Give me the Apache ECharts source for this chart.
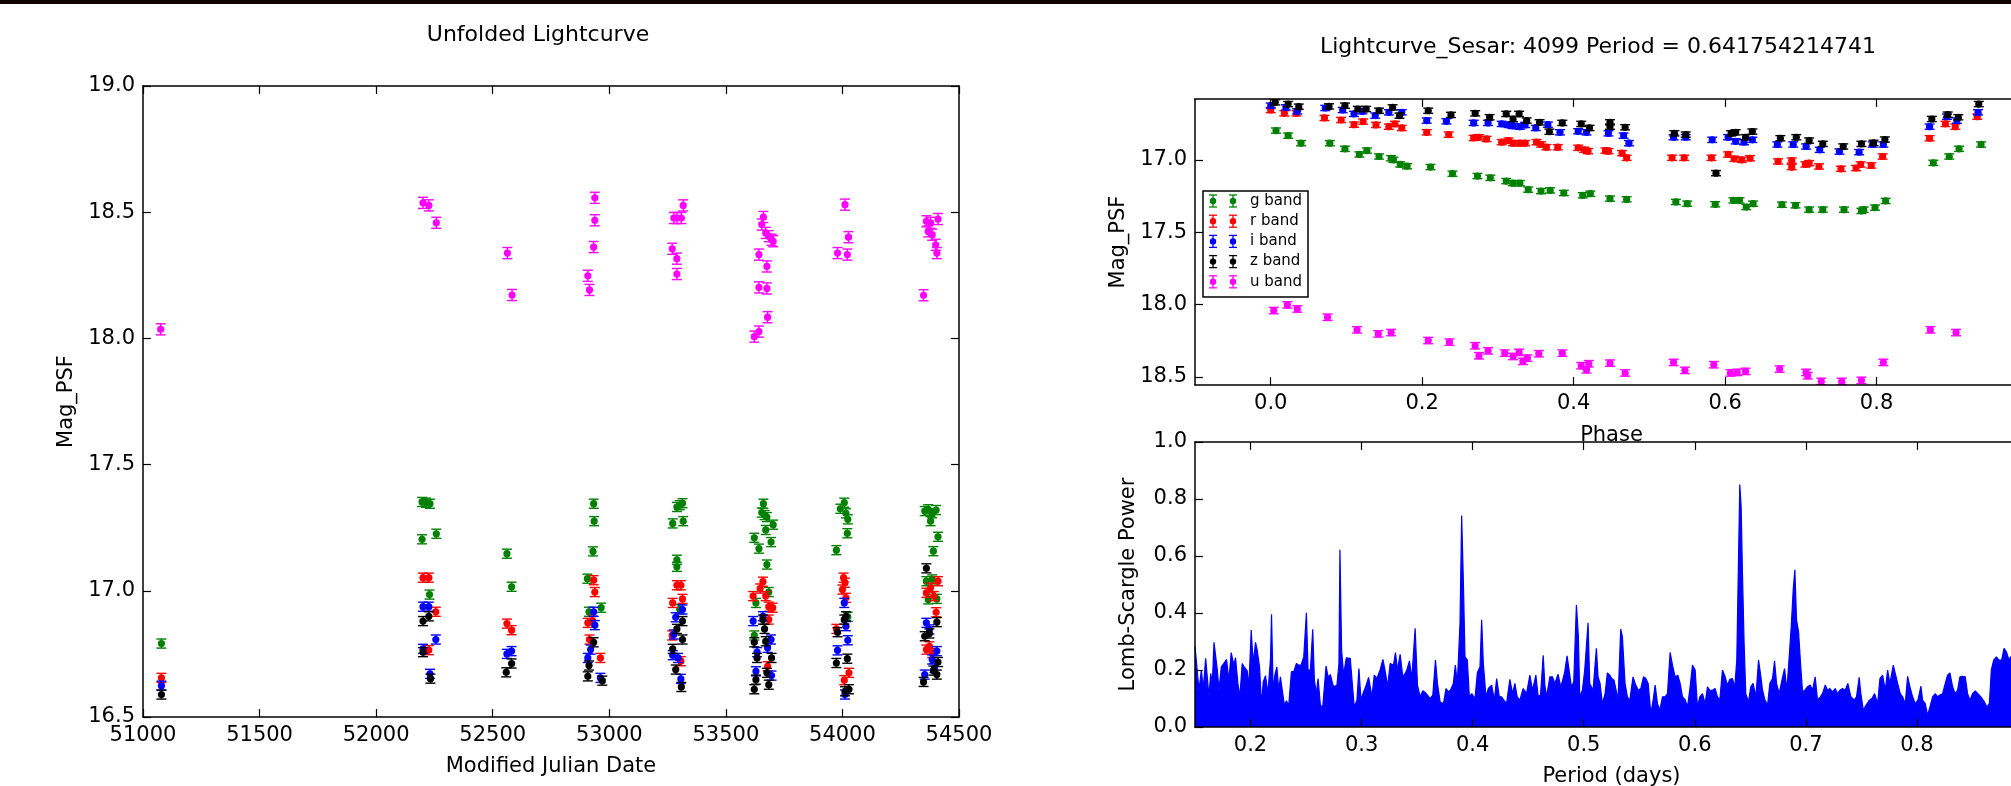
<!DOCTYPE html>
<html>
<head>
<meta charset="utf-8">
<title>Lightcurve 4099</title>
<style>
  html, body { margin: 0; padding: 0; background: #ffffff; }
  #chart { width: 2011px; height: 786px; }
</style>
<script src="https://cdn.jsdelivr.net/npm/echarts@6/dist/echarts.min.js"></script>
</head>
<body>
<div id="chart"></div>
<script>
// ---------- bands ----------
const bandNames  = ['g band', 'r band', 'i band', 'z band', 'u band'];
const bandColors = ['#008000', '#ff0000', '#0000ff', '#000000', '#ff00ff'];
const bandErr    = [0.018, 0.018, 0.018, 0.018, 0.022];

// ---------- unfolded lightcurve (MJD, Mag_PSF) ----------
const gMjd = [51079, 52197, 52214, 52231, 52197, 52258, 52229, 52561, 52581, 52906, 52913, 52933, 52935, 52930, 52965, 53272, 53290, 53302, 53314, 53317, 53290, 53290, 53302, 53622, 53642, 53661, 53654, 53666, 53676, 53671, 53703, 53694, 53676, 53684, 53629, 53622, 53974, 53991, 54008, 54015, 54023, 54021, 54023, 54353, 54368, 54385, 54402, 54378, 54410, 54390, 54360, 54368, 54405, 54385];
const gMag = [16.791, 17.352, 17.349, 17.345, 17.204, 17.226, 16.985, 17.147, 17.016, 17.048, 16.917, 17.345, 17.276, 17.156, 16.933, 17.267, 17.332, 17.339, 17.347, 17.276, 17.123, 17.095, 16.927, 17.210, 17.167, 17.345, 17.310, 17.300, 17.292, 17.241, 17.262, 17.193, 17.104, 16.995, 16.952, 16.823, 17.161, 17.325, 17.349, 17.307, 17.283, 17.228, 16.897, 17.316, 17.323, 17.307, 17.320, 17.276, 17.214, 17.157, 17.038, 16.966, 16.968, 17.045];

const rMjd = [51079, 52201, 52226, 52256, 52226, 52561, 52581, 52908, 52915, 52933, 52938, 52928, 52962, 53272, 53270, 53290, 53307, 53314, 53307, 53617, 53647, 53659, 53671, 53684, 53701, 53684, 53679, 53974, 54005, 54011, 54000, 54015, 54008, 54028, 54360, 54378, 54392, 54410, 54360, 54385, 54373, 54402];
const rMag = [16.655, 17.052, 17.052, 16.917, 16.765, 16.870, 16.844, 16.873, 16.807, 17.042, 16.995, 16.882, 16.734, 16.952, 16.823, 17.022, 17.022, 16.968, 16.721, 16.979, 17.009, 17.036, 16.979, 16.937, 16.933, 16.886, 16.701, 16.849, 17.052, 17.032, 17.005, 16.972, 16.646, 16.675, 16.992, 17.012, 16.979, 17.038, 16.767, 16.754, 16.780, 16.915];

const iMjd = [51079, 52201, 52226, 52201, 52256, 52231, 52561, 52581, 52908, 52920, 52933, 52938, 52962, 53272, 53285, 53295, 53314, 53307, 53277, 53617, 53634, 53659, 53694, 53679, 53629, 53696, 53979, 54008, 54015, 54023, 54011, 54360, 54373, 54353, 54385, 54405, 54395];
const iMag = [16.624, 16.937, 16.937, 16.770, 16.807, 16.671, 16.750, 16.761, 16.734, 16.767, 16.917, 16.864, 16.655, 16.745, 16.895, 16.734, 16.926, 16.651, 16.827, 16.880, 16.757, 16.899, 16.807, 16.774, 16.681, 16.664, 16.764, 16.952, 16.860, 16.804, 16.589, 16.873, 16.847, 16.668, 16.728, 16.761, 16.694];

const zMjd = [51079, 52201, 52226, 52201, 52233, 52558, 52581, 52913, 52933, 52908, 52970, 53272, 53285, 53290, 53314, 53314, 53309, 53622, 53634, 53629, 53622, 53666, 53671, 53676, 53684, 53696, 53659, 53979, 53974, 54008, 54015, 54021, 54011, 54028, 54360, 54353, 54373, 54405, 54390, 54410, 54348, 54405];
const zMag = [16.589, 16.880, 16.899, 16.757, 16.652, 16.677, 16.712, 16.704, 16.796, 16.661, 16.644, 16.770, 16.688, 16.849, 16.880, 16.807, 16.619, 16.796, 16.734, 16.648, 16.610, 16.849, 16.800, 16.675, 16.628, 16.734, 16.886, 16.836, 16.714, 16.886, 16.899, 16.731, 16.602, 16.610, 17.089, 16.820, 16.831, 16.876, 16.684, 16.718, 16.639, 16.668];

const uMjd = [51076, 52201, 52226, 52258, 52563, 52583, 52908, 52915, 52933, 52938, 52938, 53270, 53277, 53290, 53290, 53290, 53309, 53317, 53622, 53642, 53642, 53642, 53654, 53661, 53671, 53676, 53676, 53679, 53684, 53696, 53703, 53979, 54011, 54021, 54026, 54348, 54360, 54368, 54378, 54385, 54400, 54405, 54410];
const uMag = [18.036, 18.537, 18.527, 18.458, 18.338, 18.172, 18.248, 18.192, 18.362, 18.557, 18.468, 18.355, 18.477, 18.477, 18.316, 18.255, 18.477, 18.527, 18.007, 18.027, 18.202, 18.332, 18.451, 18.481, 18.418, 18.285, 18.198, 18.084, 18.405, 18.391, 18.385, 18.338, 18.530, 18.332, 18.401, 18.171, 18.464, 18.424, 18.458, 18.411, 18.371, 18.338, 18.473];

// ---------- folded lightcurve (phase, Mag_PSF) ----------
const gPhase = [0.007, 0.023, 0.040, 0.078, 0.098, 0.117, 0.127, 0.143, 0.159, 0.162, 0.171, 0.180, 0.211, 0.240, 0.273, 0.290, 0.311, 0.320, 0.329, 0.340, 0.357, 0.369, 0.387, 0.412, 0.422, 0.448, 0.470, 0.535, 0.550, 0.587, 0.611, 0.619, 0.628, 0.637, 0.675, 0.693, 0.711, 0.729, 0.757, 0.780, 0.783, 0.798, 0.812, 0.875, 0.896, 0.909, 0.938];
const gFold  = [16.798, 16.833, 16.885, 16.885, 16.924, 16.963, 16.936, 16.977, 16.989, 17.000, 17.032, 17.044, 17.050, 17.096, 17.112, 17.124, 17.147, 17.161, 17.161, 17.206, 17.216, 17.211, 17.229, 17.245, 17.234, 17.268, 17.273, 17.291, 17.303, 17.307, 17.280, 17.280, 17.326, 17.303, 17.310, 17.314, 17.344, 17.344, 17.344, 17.353, 17.344, 17.330, 17.284, 17.021, 16.977, 16.924, 16.894];

const rPhase = [0.000, 0.018, 0.034, 0.071, 0.093, 0.110, 0.122, 0.139, 0.156, 0.164, 0.173, 0.206, 0.235, 0.268, 0.275, 0.285, 0.305, 0.314, 0.320, 0.329, 0.336, 0.351, 0.357, 0.364, 0.379, 0.406, 0.414, 0.419, 0.442, 0.446, 0.464, 0.470, 0.530, 0.546, 0.582, 0.604, 0.612, 0.622, 0.633, 0.670, 0.688, 0.688, 0.706, 0.711, 0.724, 0.753, 0.773, 0.779, 0.793, 0.808, 0.870, 0.891, 0.904, 0.933];
const rFold  = [16.656, 16.679, 16.679, 16.711, 16.725, 16.757, 16.736, 16.759, 16.771, 16.752, 16.780, 16.810, 16.826, 16.849, 16.844, 16.856, 16.878, 16.867, 16.885, 16.885, 16.885, 16.878, 16.894, 16.913, 16.913, 16.917, 16.931, 16.940, 16.936, 16.940, 16.954, 16.986, 16.986, 16.986, 16.986, 16.963, 16.993, 17.000, 16.989, 17.011, 17.005, 17.050, 17.032, 17.023, 17.046, 17.062, 17.057, 17.032, 17.039, 16.977, 16.851, 16.752, 16.771, 16.702];

const iPhase = [0.000, 0.020, 0.035, 0.072, 0.095, 0.110, 0.121, 0.138, 0.156, 0.173, 0.206, 0.232, 0.268, 0.287, 0.305, 0.314, 0.320, 0.329, 0.336, 0.350, 0.366, 0.382, 0.406, 0.417, 0.446, 0.466, 0.473, 0.532, 0.548, 0.583, 0.604, 0.614, 0.625, 0.636, 0.669, 0.690, 0.707, 0.725, 0.751, 0.777, 0.795, 0.809, 0.870, 0.893, 0.906, 0.934];
const iFold  = [16.626, 16.638, 16.665, 16.642, 16.656, 16.683, 16.665, 16.695, 16.672, 16.672, 16.729, 16.734, 16.745, 16.745, 16.752, 16.759, 16.766, 16.771, 16.759, 16.780, 16.757, 16.810, 16.803, 16.810, 16.817, 16.833, 16.885, 16.844, 16.844, 16.862, 16.844, 16.872, 16.878, 16.862, 16.894, 16.894, 16.908, 16.931, 16.943, 16.947, 16.894, 16.894, 16.771, 16.702, 16.729, 16.672];

const zPhase = [0.006, 0.023, 0.037, 0.077, 0.098, 0.115, 0.126, 0.143, 0.161, 0.170, 0.208, 0.238, 0.270, 0.289, 0.311, 0.320, 0.328, 0.338, 0.355, 0.368, 0.385, 0.410, 0.421, 0.448, 0.448, 0.468, 0.533, 0.548, 0.588, 0.608, 0.614, 0.627, 0.636, 0.673, 0.694, 0.711, 0.729, 0.756, 0.780, 0.796, 0.811, 0.873, 0.894, 0.908, 0.935];
const zFold  = [16.603, 16.615, 16.633, 16.631, 16.626, 16.649, 16.649, 16.661, 16.638, 16.695, 16.661, 16.690, 16.679, 16.706, 16.683, 16.718, 16.683, 16.729, 16.741, 16.806, 16.745, 16.752, 16.780, 16.741, 16.771, 16.775, 16.817, 16.826, 17.092, 16.817, 16.810, 16.844, 16.805, 16.851, 16.844, 16.867, 16.890, 16.908, 16.890, 16.883, 16.860, 16.718, 16.688, 16.706, 16.615];

const uPhase = [0.004, 0.022, 0.035, 0.075, 0.114, 0.142, 0.159, 0.208, 0.236, 0.270, 0.275, 0.287, 0.309, 0.320, 0.328, 0.333, 0.339, 0.354, 0.385, 0.410, 0.417, 0.420, 0.448, 0.468, 0.532, 0.547, 0.585, 0.607, 0.616, 0.627, 0.672, 0.707, 0.709, 0.727, 0.754, 0.780, 0.809, 0.871, 0.905];
const uFold  = [18.041, 18.002, 18.030, 18.087, 18.174, 18.202, 18.193, 18.248, 18.259, 18.284, 18.353, 18.319, 18.335, 18.358, 18.330, 18.392, 18.369, 18.339, 18.335, 18.422, 18.450, 18.408, 18.404, 18.472, 18.399, 18.454, 18.415, 18.472, 18.468, 18.461, 18.445, 18.468, 18.491, 18.530, 18.530, 18.523, 18.399, 18.174, 18.193];

// ---------- Lomb-Scargle periodogram (period in days, power) ----------
const lombScargle = [
  [0.1500,0.282],[0.1515,0.282],[0.1536,0.129],[0.1557,0.200],[0.1575,0.135],[0.1596,0.241],[0.1611,0.235],[0.1626,0.106],[0.1641,0.188],[0.1656,0.153],
  [0.1671,0.297],[0.1686,0.293],[0.1701,0.200],[0.1716,0.129],[0.1737,0.211],[0.1760,0.223],[0.1784,0.237],[0.1805,0.164],[0.1826,0.261],[0.1850,0.217],
  [0.1865,0.243],[0.1886,0.153],[0.1904,0.106],[0.1925,0.223],[0.1946,0.209],[0.1970,0.197],[0.1985,0.141],[0.2006,0.340],[0.2024,0.223],[0.2045,0.297],
  [0.2060,0.270],[0.2081,0.211],[0.2099,0.076],[0.2114,0.158],[0.2135,0.180],[0.2156,0.117],[0.2180,0.241],[0.2189,0.396],[0.2204,0.123],[0.2219,0.182],
  [0.2237,0.211],[0.2254,0.129],[0.2269,0.176],[0.2284,0.176],[0.2305,0.076],[0.2323,0.092],[0.2344,0.076],[0.2368,0.194],[0.2389,0.194],[0.2413,0.223],
  [0.2434,0.217],[0.2455,0.217],[0.2479,0.246],[0.2503,0.401],[0.2518,0.200],[0.2539,0.200],[0.2560,0.343],[0.2575,0.164],[0.2593,0.117],[0.2608,0.170],
  [0.2629,0.076],[0.2650,0.070],[0.2680,0.214],[0.2698,0.176],[0.2719,0.184],[0.2740,0.150],[0.2755,0.141],[0.2778,0.147],[0.2796,0.223],[0.2805,0.622],
  [0.2820,0.270],[0.2838,0.182],[0.2862,0.243],[0.2898,0.241],[0.2916,0.153],[0.2934,0.070],[0.2958,0.094],[0.2976,0.205],[0.2994,0.096],[0.3012,0.117],
  [0.3036,0.141],[0.3063,0.174],[0.3093,0.106],[0.3114,0.182],[0.3138,0.170],[0.3168,0.202],[0.3192,0.237],[0.3216,0.188],[0.3234,0.141],[0.3257,0.223],
  [0.3287,0.217],[0.3305,0.261],[0.3323,0.200],[0.3347,0.255],[0.3371,0.176],[0.3395,0.190],[0.3407,0.200],[0.3431,0.232],[0.3452,0.170],[0.3482,0.346],
  [0.3503,0.147],[0.3527,0.106],[0.3551,0.127],[0.3572,0.121],[0.3593,0.112],[0.3617,0.100],[0.3641,0.112],[0.3665,0.235],[0.3683,0.153],[0.3707,0.088],
  [0.3737,0.082],[0.3760,0.135],[0.3781,0.123],[0.3802,0.131],[0.3826,0.153],[0.3844,0.217],[0.3862,0.153],[0.3886,0.364],[0.3901,0.742],[0.3916,0.516],
  [0.3931,0.246],[0.3952,0.235],[0.3970,0.106],[0.3991,0.117],[0.4021,0.100],[0.4042,0.190],[0.4066,0.211],[0.4081,0.376],[0.4096,0.223],[0.4120,0.106],
  [0.4141,0.135],[0.4171,0.147],[0.4195,0.094],[0.4216,0.170],[0.4240,0.106],[0.4260,0.106],[0.4281,0.094],[0.4305,0.082],[0.4335,0.167],[0.4359,0.117],
  [0.4380,0.153],[0.4401,0.106],[0.4425,0.094],[0.4455,0.135],[0.4485,0.117],[0.4515,0.182],[0.4539,0.129],[0.4569,0.182],[0.4590,0.106],[0.4611,0.112],
  [0.4635,0.252],[0.4650,0.147],[0.4665,0.106],[0.4695,0.176],[0.4719,0.176],[0.4740,0.153],[0.4769,0.185],[0.4793,0.141],[0.4814,0.170],[0.4829,0.194],
  [0.4850,0.250],[0.4868,0.200],[0.4889,0.141],[0.4910,0.158],[0.4934,0.428],[0.4952,0.317],[0.4964,0.106],[0.4988,0.129],[0.5009,0.200],[0.5039,0.366],
  [0.5054,0.153],[0.5084,0.129],[0.5114,0.276],[0.5129,0.176],[0.5147,0.153],[0.5168,0.082],[0.5192,0.117],[0.5213,0.190],[0.5234,0.182],[0.5252,0.170],
  [0.5273,0.164],[0.5288,0.162],[0.5309,0.096],[0.5333,0.343],[0.5348,0.317],[0.5372,0.153],[0.5393,0.106],[0.5414,0.092],[0.5444,0.176],[0.5468,0.147],
  [0.5492,0.129],[0.5514,0.135],[0.5538,0.176],[0.5559,0.170],[0.5580,0.153],[0.5604,0.047],[0.5625,0.094],[0.5643,0.147],[0.5664,0.082],[0.5685,0.059],
  [0.5709,0.106],[0.5733,0.106],[0.5754,0.117],[0.5778,0.262],[0.5799,0.217],[0.5823,0.176],[0.5847,0.182],[0.5868,0.153],[0.5889,0.106],[0.5913,0.096],
  [0.5934,0.070],[0.5958,0.141],[0.5979,0.217],[0.6003,0.200],[0.6024,0.070],[0.6045,0.106],[0.6069,0.117],[0.6093,0.082],[0.6114,0.141],[0.6135,0.129],
  [0.6159,0.129],[0.6183,0.135],[0.6204,0.106],[0.6225,0.094],[0.6249,0.200],[0.6273,0.176],[0.6294,0.147],[0.6315,0.167],[0.6339,0.170],[0.6360,0.141],
  [0.6378,0.235],[0.6393,0.575],[0.6405,0.851],[0.6417,0.775],[0.6429,0.540],[0.6444,0.293],[0.6459,0.117],[0.6483,0.088],[0.6504,0.141],[0.6525,0.153],
  [0.6550,0.106],[0.6574,0.235],[0.6595,0.176],[0.6610,0.129],[0.6631,0.096],[0.6655,0.076],[0.6676,0.153],[0.6700,0.170],[0.6718,0.232],[0.6736,0.153],
  [0.6760,0.117],[0.6784,0.164],[0.6808,0.205],[0.6829,0.129],[0.6850,0.246],[0.6868,0.352],[0.6886,0.481],[0.6901,0.552],[0.6916,0.376],[0.6934,0.335],
  [0.6952,0.223],[0.6970,0.123],[0.6994,0.131],[0.7015,0.141],[0.7039,0.147],[0.7060,0.129],[0.7084,0.176],[0.7105,0.094],[0.7129,0.106],[0.7150,0.117],
  [0.7174,0.147],[0.7195,0.129],[0.7216,0.135],[0.7240,0.123],[0.7264,0.135],[0.7285,0.117],[0.7306,0.129],[0.7330,0.135],[0.7354,0.129],[0.7378,0.153],
  [0.7405,0.106],[0.7435,0.094],[0.7456,0.106],[0.7480,0.174],[0.7495,0.117],[0.7517,0.059],[0.7541,0.076],[0.7571,0.094],[0.7595,0.100],[0.7619,0.117],
  [0.7646,0.082],[0.7667,0.170],[0.7691,0.182],[0.7715,0.129],[0.7736,0.200],[0.7757,0.153],[0.7787,0.217],[0.7805,0.223],[0.7826,0.153],[0.7850,0.117],
  [0.7871,0.106],[0.7895,0.082],[0.7916,0.178],[0.7937,0.141],[0.7961,0.106],[0.7985,0.082],[0.8009,0.094],[0.8036,0.143],[0.8051,0.094],[0.8075,0.082],
  [0.8096,0.041],[0.8117,0.070],[0.8141,0.106],[0.8165,0.117],[0.8186,0.106],[0.8207,0.112],[0.8231,0.117],[0.8255,0.153],[0.8276,0.182],[0.8297,0.190],
  [0.8321,0.141],[0.8345,0.117],[0.8366,0.129],[0.8387,0.176],[0.8411,0.178],[0.8435,0.176],[0.8456,0.117],[0.8477,0.094],[0.8501,0.117],[0.8525,0.127],
  [0.8549,0.117],[0.8576,0.106],[0.8607,0.088],[0.8631,0.070],[0.8652,0.082],[0.8670,0.200],[0.8691,0.235],[0.8715,0.246],[0.8739,0.235],[0.8763,0.235],
  [0.8784,0.276],[0.8805,0.264],[0.8829,0.235],[0.8844,0.246],[0.8900,0.240],[0.9000,0.200]
];

// ---------- axis ticks ----------
const phaseTicks    = [0.0, 0.2, 0.4, 0.6, 0.8, 1.0];
const foldMagTicks  = [17.0, 17.5, 18.0, 18.5];
const periodTicks   = [0.2, 0.3, 0.4, 0.5, 0.6, 0.7, 0.8, 0.9];

// ---------- titles ----------
const leftTitle  = 'Unfolded Lightcurve';
const rightTitle = 'Lightcurve_Sesar: 4099 Period = 0.641754214741';

const FONT = 'DejaVu Sans';
const FS = 21;
const TITLE_FS = 22;

const unfolded = [[gMjd, gMag], [rMjd, rMag], [iMjd, iMag], [zMjd, zMag], [uMjd, uMag]];
const folded   = [[gPhase, gFold], [rPhase, rFold], [iPhase, iFold], [zPhase, zFold], [uPhase, uFold]];

function zip(xs, ys, e) { return xs.map((x, k) => [x, ys[k], e]); }
const one = v => v.toFixed(1);

// error bar with caps and a round marker, drawn in data coordinates
function errorBar(params, api) {
  const x = api.value(0), y = api.value(1), e = api.value(2);
  const c = api.coord([x, y]);
  const lo = api.coord([x, y - e]);
  const hi = api.coord([x, y + e]);
  const color = api.visual('color');
  const cap = 5, lw = 1.4;
  const ls = { stroke: color, lineWidth: lw };
  return {
    type: 'group',
    children: [
      { type: 'line', shape: { x1: c[0], y1: lo[1], x2: c[0], y2: hi[1] }, style: ls },
      { type: 'line', shape: { x1: c[0] - cap, y1: lo[1], x2: c[0] + cap, y2: lo[1] }, style: ls },
      { type: 'line', shape: { x1: c[0] - cap, y1: hi[1], x2: c[0] + cap, y2: hi[1] }, style: ls },
      { type: 'circle', shape: { cx: c[0], cy: c[1], r: 3.6 }, style: { fill: color } }
    ]
  };
}

function makeAxis(o) {
  const a = {
    type: 'value',
    gridIndex: o.grid,
    position: o.pos,
    min: o.min,
    max: o.max,
    inverse: !!o.inverse,
    z: 10,
    axisLine: { show: true, onZero: false, lineStyle: { color: '#000', width: 1.5 } },
    axisTick: { show: true, inside: true, length: 8, lineStyle: { color: '#000', width: 1.2 } },
    splitLine: { show: false },
    axisLabel: { show: !o.mirror, color: '#000', fontFamily: FONT, fontSize: FS, margin: 8, formatter: o.fmt }
  };
  if (o.interval) a.interval = o.interval;
  if (o.ticks) {
    a.axisTick.customValues = o.ticks;
    a.axisLabel.customValues = o.ticks;
  }
  if (o.name && !o.mirror) {
    a.name = o.name;
    a.nameLocation = 'middle';
    a.nameGap = o.gap;
    a.nameRotate = o.rot || 0;
    a.nameTextStyle = { color: '#000', fontFamily: FONT, fontSize: FS };
  }
  return a;
}

const xAxes = [
  makeAxis({ grid: 0, pos: 'bottom', min: 51000, max: 54500, interval: 500, fmt: v => String(v), name: 'Modified Julian Date', gap: 39 }),
  makeAxis({ grid: 0, pos: 'top', min: 51000, max: 54500, interval: 500, mirror: true }),
  makeAxis({ grid: 1, pos: 'bottom', min: -0.1, max: 1.0, ticks: phaseTicks, fmt: one, name: 'Phase', gap: 40 }),
  makeAxis({ grid: 1, pos: 'top', min: -0.1, max: 1.0, ticks: phaseTicks, mirror: true }),
  makeAxis({ grid: 2, pos: 'bottom', min: 0.15, max: 0.9, ticks: periodTicks, fmt: one, name: 'Period (days)', gap: 39 }),
  makeAxis({ grid: 2, pos: 'top', min: 0.15, max: 0.9, ticks: periodTicks, mirror: true })
];
const yAxes = [
  makeAxis({ grid: 0, pos: 'left', min: 16.5, max: 19.0, interval: 0.5, fmt: one, name: 'Mag_PSF', gap: 66, rot: 90 }),
  makeAxis({ grid: 0, pos: 'right', min: 16.5, max: 19.0, interval: 0.5, mirror: true }),
  makeAxis({ grid: 1, pos: 'left', min: 16.58, max: 18.555, inverse: true, ticks: foldMagTicks, fmt: one, name: 'Mag_PSF', gap: 66, rot: 90 }),
  makeAxis({ grid: 1, pos: 'right', min: 16.58, max: 18.555, inverse: true, ticks: foldMagTicks, mirror: true }),
  makeAxis({ grid: 2, pos: 'left', min: 0, max: 1.0, interval: 0.2, fmt: one, name: 'Lomb-Scargle Power', gap: 56, rot: 90 }),
  makeAxis({ grid: 2, pos: 'right', min: 0, max: 1.0, interval: 0.2, mirror: true })
];

const series = [];
unfolded.forEach((b, k) => {
  series.push({
    type: 'custom', name: bandNames[k], xAxisIndex: 0, yAxisIndex: 0, clip: true,
    itemStyle: { color: bandColors[k] }, renderItem: errorBar,
    data: zip(b[0], b[1], bandErr[k]), z: 3 + k
  });
});
folded.forEach((b, k) => {
  series.push({
    type: 'custom', name: bandNames[k], xAxisIndex: 2, yAxisIndex: 2, clip: true,
    itemStyle: { color: bandColors[k] }, renderItem: errorBar,
    data: zip(b[0], b[1], bandErr[k]), z: 3 + k
  });
});
series.push({
  type: 'line', xAxisIndex: 4, yAxisIndex: 4, data: lombScargle,
  symbol: 'none', clip: true, silent: true,
  lineStyle: { color: '#0000ff', width: 1.2 },
  areaStyle: { color: '#0000ff', opacity: 1 }
});

// legend box drawn as graphic elements (two error-bar glyphs per row, like the plotting library)
const legendBox = { x: 1203, y: 191, w: 105, h: 106, row0: 201, rowStep: 20.2 };
const legendEls = [{
  type: 'rect', z: 50,
  shape: { x: legendBox.x, y: legendBox.y, width: legendBox.w, height: legendBox.h },
  style: { fill: '#fff', stroke: '#000', lineWidth: 1.5 }
}];
bandNames.forEach((nm, k) => {
  const cy = legendBox.row0 + k * legendBox.rowStep;
  [1213, 1233].forEach(cx => {
    const st = { stroke: bandColors[k], lineWidth: 1.3 };
    legendEls.push({ type: 'line', z: 51, shape: { x1: cx, y1: cy - 6, x2: cx, y2: cy + 6 }, style: st });
    legendEls.push({ type: 'line', z: 51, shape: { x1: cx - 4, y1: cy - 6, x2: cx + 4, y2: cy - 6 }, style: st });
    legendEls.push({ type: 'line', z: 51, shape: { x1: cx - 4, y1: cy + 6, x2: cx + 4, y2: cy + 6 }, style: st });
    legendEls.push({ type: 'circle', z: 52, shape: { cx: cx, cy: cy, r: 3.2 }, style: { fill: bandColors[k] } });
  });
  legendEls.push({
    type: 'text', z: 52, x: 1250, y: cy,
    style: { text: nm, fill: '#000', fontFamily: FONT, fontSize: 15, align: 'left', verticalAlign: 'middle' }
  });
});

const chart = echarts.init(document.getElementById('chart'), null, { renderer: 'canvas' });
chart.setOption({
  animation: false,
  backgroundColor: '#ffffff',
  grid: [
    { left: 143, top: 86, width: 816, height: 631, containLabel: false, outerBoundsMode: 'none' },
    { left: 1195, top: 99, width: 833, height: 286, containLabel: false, outerBoundsMode: 'none' },
    { left: 1195, top: 442, width: 833, height: 285, containLabel: false, outerBoundsMode: 'none' }
  ],
  xAxis: xAxes,
  yAxis: yAxes,
  series: series,
  graphic: [
    { type: 'rect', z: 100, shape: { x: 0, y: 0, width: 2011, height: 4 }, style: { fill: '#0e0202' } },
    { type: 'text', x: 538, y: 35, style: { text: leftTitle, fill: '#000', fontFamily: FONT, fontSize: TITLE_FS, align: 'center', verticalAlign: 'middle' } },
    { type: 'text', x: 1598, y: 47, style: { text: rightTitle, fill: '#000', fontFamily: FONT, fontSize: TITLE_FS, align: 'center', verticalAlign: 'middle' } }
  ].concat(legendEls)
});
</script>
</body>
</html>
